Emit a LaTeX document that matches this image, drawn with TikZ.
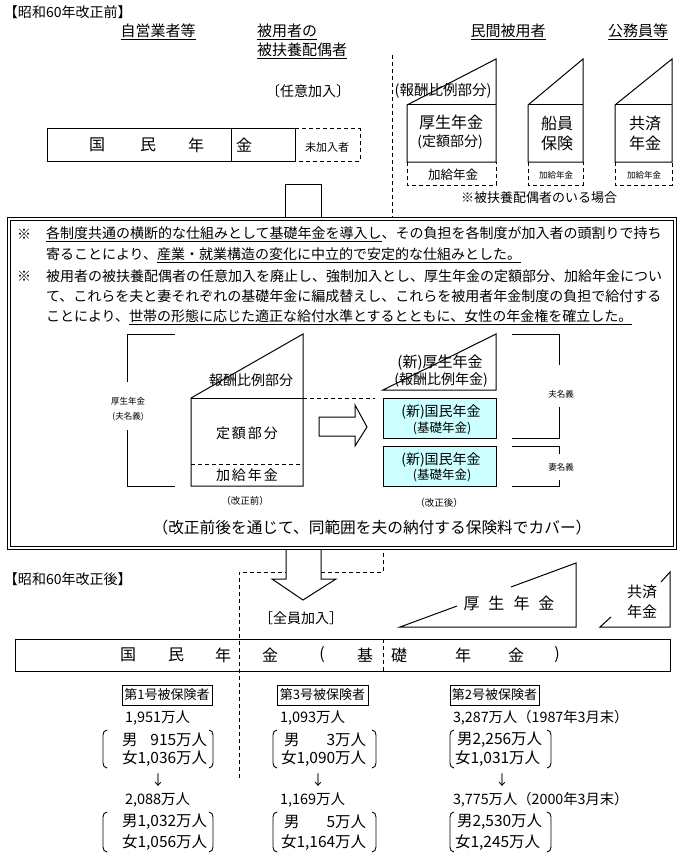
\documentclass[tikz,border=0pt]{standalone}
\usepackage{fontspec}
\setmainfont{Noto Sans CJK JP}
\newcommand\fsz[1]{\fontsize{#1}{#1}\selectfont}
\definecolor{paleCyan}{RGB}{204,255,255}
\newcommand\lbrk[3]{\draw[thin line] ({#1+4},#2) to[out=180,in=90] (#1,{#2+5}) -- (#1,{#3-5}) to[out=-90,in=180] ({#1+4},#3);}
\newcommand\rbrk[3]{\draw[thin line] ({#1-4},#2) to[out=0,in=90] (#1,{#2+5}) -- (#1,{#3-5}) to[out=-90,in=0] ({#1-4},#3);}
\begin{document}
\begin{tikzpicture}[x=1pt,y=-1pt,line width=1pt,
  txt/.style={inner sep=0pt,outer sep=0pt},
  thin line/.style={line width=0.9pt},
  dsh/.style={dash pattern=on 4pt off 3pt},
  cybox/.style={draw,fill=paleCyan},
  hbox/.style={draw,inner sep=0pt,minimum height=20pt,font=\fsz{13}}]
\useasboundingbox (0,0) rectangle (681,864);
\fill[white] (0,0) rectangle (681,864);

% ---------------- top section ----------------
\node[txt,anchor=west,font=\fsz{14}] (hdrA) at (4,12) {【昭和60年改正前】};
\node[txt,font=\fsz{15}] (jiei) at (158,32) {\underline{自営業者等}};
\node[txt,anchor=west,font=\fsz{15}] (hiyo1) at (257,32) {\underline{被用者の}};
\node[txt,anchor=west,font=\fsz{15}] (hiyo2) at (257,51) {\underline{被扶養配偶者}};
\node[txt,font=\fsz{14}] (nini) at (308,91) {〔任意加入〕};
\node[txt,font=\fsz{15}] (minkan) at (508,32) {\underline{民間被用者}};
\node[txt,font=\fsz{15}] (koumu) at (638,32) {\underline{公務員等}};

\draw (47,129) rectangle (295,161);
\draw (231,129) -- (231,161);
\node[txt,font=\fsz{16}] (k1) at (97,145) {国};
\node[txt,font=\fsz{16}] (k2) at (148,145) {民};
\node[txt,font=\fsz{16}] (k3) at (196,145) {年};
\node[txt,font=\fsz{16}] (k4) at (244,145) {金};
\draw[dsh] (295,129) -- (360,129) -- (360,161) -- (295,161);
\node[txt,font=\fsz{11}] (mika) at (327,147) {未加入者};

\draw[dsh] (392,55) -- (392,217);
\node[txt,font=\fsz{14.5}] (hoshu) at (443,91) {(報酬比例部分)};

% 厚生年金
\draw (407,162) -- (407,105) -- (496,59) -- (496,162) -- cycle;
\draw (407,105) -- (496,105);
\node[txt,font=\fsz{16}] (kn1) at (451,122) {厚生年金};
\node[txt,font=\fsz{14}] (kn2) at (450,142) {(定額部分)};
\draw[dsh] (407,162) -- (407,185) -- (496,185) -- (496,162);
\node[txt,font=\fsz{12.5}] (kk1) at (453,175) {加給年金};
% 船員保険
\draw (528,162) -- (528,105) -- (583,59) -- (583,162) -- cycle;
\draw (528,105) -- (583,105);
\node[txt,font=\fsz{16}] (se1) at (557,123) {船員};
\node[txt,font=\fsz{16}] (se2) at (557,143) {保険};
\draw[dsh] (528,162) -- (528,185) -- (583,185) -- (583,162);
\node[txt,font=\fsz{8.5}] (kk2) at (556,175) {加給年金};
% 共済年金
\draw (615,162) -- (615,105) -- (672,59) -- (672,162) -- cycle;
\draw (615,105) -- (672,105);
\node[txt,font=\fsz{16}] (ky1) at (645,123) {共済};
\node[txt,font=\fsz{16}] (ky2) at (645,143) {年金};
\draw[dsh] (615,162) -- (615,185) -- (672,185) -- (672,162);
\node[txt,font=\fsz{8.5}] (kk3) at (644,175) {加給年金};
\node[txt,font=\fsz{13}] (haigu) at (539,198) {※被扶養配偶者のいる場合};

% arrow stem above box
\draw (285,217) -- (285,184) -- (321,184) -- (321,217);

% ---------------- middle box ----------------
\draw (7,217) rectangle (676,549);
\draw (10,220) rectangle (673,546);

\node[txt,font=\fsz{14}] (kome1) at (24,234) {※};
\node[txt,anchor=west,font=\fsz{14}] (l1) at (46,234) {\underline{各制度共通の横断的な仕組みとして基礎年金を導入し}、その負担を各制度が加入者の頭割りで持ち};
\node[txt,anchor=west,font=\fsz{14}] (l2) at (46,255) {寄ることにより、\underline{産業・就業構造の変化に中立的で安定的な仕組みとした。}};
\node[txt,font=\fsz{14}] (kome2) at (24,276) {※};
\node[txt,anchor=west,font=\fsz{14}] (l3) at (46,276) {被用者の被扶養配偶者の任意加入を廃止し、強制加入とし、厚生年金の定額部分、加給年金につい};
\node[txt,anchor=west,font=\fsz{14}] (l4) at (46,296) {て、これらを夫と妻それぞれの基礎年金に編成替えし、これらを被用者年金制度の負担で給付する};
\node[txt,anchor=west,font=\fsz{14}] (l5) at (46,317) {ことにより、\underline{世帯の形態に応じた適正な給付水準とするとともに、女性の年金権を確立した。}};

% left bracket (厚生年金 夫名義)
\draw (175,334) -- (127,334) -- (127,382);
\draw (127,430) -- (127,486) -- (175,486);
\node[txt,font=\fsz{8.5}] (lb1) at (128,401) {厚生年金};
\node[txt,font=\fsz{8.5}] (lb2) at (128,417) {(夫名義)};

% old shape
\draw (191,486) -- (191,398) -- (303,334) -- (303,486) -- cycle;
\draw (191,398) -- (303,398);
\draw[dsh] (191,464) -- (303,464);
\draw[dsh] (303,398) -- (375,398);
\node[txt,font=\fsz{14}] (o1) at (251,380) {報酬比例部分};
\node[txt,font=\fsz{14}] (o2) at (247,433) {定\kern2pt 額\kern2pt 部\kern2pt 分};
\node[txt,font=\fsz{14}] (o3) at (247,475) {加\kern2pt 給\kern2pt 年\kern2pt 金};
\node[txt,font=\fsz{9.5}] (o4) at (245,501) {（改正前）};

% hollow arrow
\draw (319,417) -- (355,417) -- (355,405) -- (367,427) -- (355,446) -- (355,436) -- (319,436) -- cycle;

% new shapes
\draw (383,390) -- (496,390) -- (496,334) -- cycle;
\node[txt,font=\fsz{15}] (n1) at (440,363) {(新)厚生年金};
\node[txt,font=\fsz{14}] (n2) at (441,380) {(報酬比例年金)};
\draw[cybox] (383,398) rectangle (496,438);
\node[txt,font=\fsz{14}] (n3) at (441,412) {(新)国民年金};
\node[txt,font=\fsz{12.5}] (n4) at (442,428) {(基礎年金)};
\draw[cybox] (383,446) rectangle (496,486);
\node[txt,font=\fsz{14}] (n5) at (441,460) {(新)国民年金};
\node[txt,font=\fsz{12.5}] (n6) at (442,475) {(基礎年金)};
\node[txt,font=\fsz{9.5}] (n7) at (439,503) {（改正後）};

\draw (512,334) -- (559,334) -- (559,365);
\draw (559,407) -- (559,438) -- (512,438);
\node[txt,font=\fsz{8.5}] (rb1) at (561,394) {夫名義};
\draw (512,446) -- (559,446) -- (559,454);
\draw (559,480) -- (559,486) -- (512,486);
\node[txt,font=\fsz{8.5}] (rb2) at (561,467) {妻名義};

\node[txt,font=\fsz{15.7}] (cover) at (372,528) {（改正前後を通じて、同範囲を夫の納付する保険料でカバー）};

% ---------------- bottom section ----------------
\draw (286,549) -- (286,579) -- (272,579) -- (303,600) -- (336,579) -- (321,579) -- (321,549);
\draw[dsh] (239,778) -- (239,572) -- (286,572);
\draw[dsh] (321,572) -- (383,572) -- (383,549);

\node[txt,anchor=west,font=\fsz{14}] (hdrB) at (4,579) {【昭和60年改正後】};
\node[txt,font=\fsz{14}] (zenin) at (301,618) {［全員加入］};

\draw (457,606) -- (400,627) -- (576,627) -- (576,563) -- (511,587);
\node[txt,font=\fsz{16}] (kb) at (509,603) {厚\kern9pt 生\kern9pt 年\kern9pt 金};
\draw (611,617) -- (600,627) -- (670,627) -- (670,572) -- (661,582);
\node[txt,font=\fsz{15}] (kyb1) at (642,592) {共済};
\node[txt,font=\fsz{15}] (kyb2) at (642,612) {年金};

\draw (15,639) rectangle (670,671);
\draw[dsh] (383,639) -- (383,671);
\node[txt,font=\fsz{16}] (b1) at (128,655) {国};
\node[txt,font=\fsz{16}] (b2) at (176,655) {民};
\node[txt,font=\fsz{16}] (b3) at (223,655) {年};
\node[txt,font=\fsz{16}] (b4) at (270,655) {金};
\node[txt,font=\fsz{16}] (b5) at (322,655) {(};
\node[txt,font=\fsz{16}] (b6) at (365,655) {基};
\node[txt,font=\fsz{16}] (b7) at (399,655) {礎};
\node[txt,font=\fsz{16}] (b8) at (463,655) {年};
\node[txt,font=\fsz{16}] (b9) at (516,655) {金};
\node[txt,font=\fsz{16}] (b10) at (557,655) {)};

% column 1
\node[hbox,minimum width=90pt] (h1) at (167,695) {第1号被保険者};
\node[txt,anchor=west,font=\fsz{14.5}] (c1a) at (125,718) {1,951万人};
\node[txt,anchor=west,font=\fsz{15.5}] (c1f) at (122,758) {女1,036万人};
\node[txt,anchor=west,font=\fsz{15.5}] (c1m) at (122,740) {男};
\path (c1f.east) ++(0,-18) node[txt,anchor=east,font=\fsz{15.5}] (c1mn) {915万人};
\lbrk{103}{730}{768}
\rbrk{213}{730}{768}
\node[txt,font=\fsz{14}] (c1ar) at (158,780) {↓};
\node[txt,anchor=west,font=\fsz{14.5}] (c1b) at (125,800) {2,088万人};
\node[txt,anchor=west,font=\fsz{15.5}] (c1m2) at (122,822) {男1,032万人};
\node[txt,anchor=west,font=\fsz{15.5}] (c1f2) at (122,842) {女1,056万人};
\lbrk{103}{812}{852}
\rbrk{213}{812}{852}

% column 3 (middle)
\node[hbox,minimum width=91pt] (h3) at (322.5,695) {第3号被保険者};
\node[txt,anchor=west,font=\fsz{14.5}] (c3a) at (280,718) {1,093万人};
\node[txt,anchor=west,font=\fsz{15.5}] (c3f) at (281,758) {女1,090万人};
\node[txt,anchor=west,font=\fsz{15.5}] (c3m) at (284,740) {男};
\path (c3f.east) ++(0,-18) node[txt,anchor=east,font=\fsz{15.5}] (c3mn) {3万人};
\lbrk{273}{730}{768}
\rbrk{376}{730}{768}
\node[txt,font=\fsz{14}] (c3ar) at (318,780) {↓};
\node[txt,anchor=west,font=\fsz{14.5}] (c3b) at (280,800) {1,169万人};
\node[txt,anchor=west,font=\fsz{15.5}] (c3f2) at (281,842) {女1,164万人};
\node[txt,anchor=west,font=\fsz{15.5}] (c3m2) at (284,822) {男};
\path (c3f2.east) ++(0,-20) node[txt,anchor=east,font=\fsz{15.5}] (c3mn2) {5万人};
\lbrk{273}{812}{852}
\rbrk{376}{812}{852}

% column 2 (right)
\node[hbox,minimum width=89pt] (h2) at (494.5,695) {第2号被保険者};
\node[txt,anchor=west,font=\fsz{14.3}] (c2a) at (453,718) {3,287万人（1987年3月末）};
\node[txt,anchor=west,font=\fsz{15.5}] (c2m) at (457,740) {男2,256万人};
\node[txt,anchor=west,font=\fsz{15.5}] (c2f) at (455,758) {女1,031万人};
\lbrk{450}{730}{768}
\rbrk{551}{730}{768}
\node[txt,font=\fsz{14}] (c2ar) at (502,780) {↓};
\node[txt,anchor=west,font=\fsz{14.3}] (c2b) at (453,800) {3,775万人（2000年3月末）};
\node[txt,anchor=west,font=\fsz{15.5}] (c2m2) at (457,822) {男2,530万人};
\node[txt,anchor=west,font=\fsz{15.5}] (c2f2) at (455,842) {女1,245万人};
\lbrk{450}{812}{852}
\rbrk{551}{812}{852}
\end{tikzpicture}
\end{document}
